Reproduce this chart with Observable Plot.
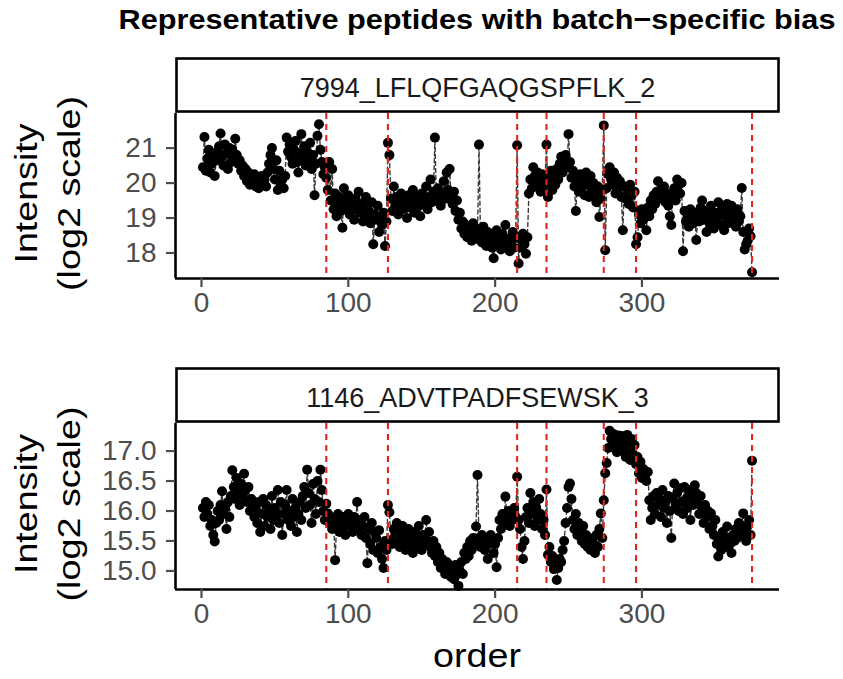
<!DOCTYPE html>
<html><head><meta charset="utf-8">
<script src="https://cdn.jsdelivr.net/npm/d3@7"></script>
<script src="https://cdn.jsdelivr.net/npm/@observablehq/plot@0.6"></script>
<style>
html,body{margin:0;padding:0;background:#fff;}
#root{position:relative;width:843px;height:679px;overflow:hidden;font-family:"Liberation Sans",Arial,Helvetica,sans-serif;}
#root > svg{position:absolute;left:0;}
</style></head><body><div id="root"></div>
<script>
const title = "Representative peptides with batch\u2212specific bias";
const peptides = ["7994_LFLQFGAQGSPFLK_2", "1146_ADVTPADFSEWSK_3"];
const batchStarts = [85, 127, 215, 235, 274, 296, 375];
const xTicks = [0, 100, 200, 300];
const yTicks1 = [18, 19, 20, 21];
const yTicks2 = [15.0, 15.5, 16.0, 16.5, 17.0];
const yLabelLines = ["Intensity", "(log2 scale)"];
const xLabel = "order";

// Intensity (log2) by run order, peptide 7994_LFLQFGAQGSPFLK_2
const pep1Values = [
  // batch 1 (1-84)
  20.45,21.32,20.35,20.70,20.95,20.30,20.55,20.80,20.20,20.65,
  20.90,21.05,21.42,20.75,20.50,21.10,20.85,20.40,21.00,20.60,
  20.95,20.70,21.27,20.80,20.55,20.65,20.35,20.50,20.20,20.40,
  20.05,20.30,19.95,20.15,20.00,20.25,19.90,20.10,19.85,20.05,
  20.20,19.95,20.10,19.90,20.30,20.55,20.80,21.00,20.40,20.10,
  20.65,19.80,20.35,19.95,20.10,19.85,20.20,21.30,20.90,21.10,
  20.75,20.55,20.95,21.20,20.60,20.30,20.85,21.40,20.70,21.05,
  20.50,20.90,20.65,21.15,20.40,20.80,19.65,20.55,21.35,21.68,
  20.95,20.60,20.25,20.45,
  // batch 2 (85-126)
  20.15,19.80,20.60,19.50,20.40,19.25,19.70,19.05,19.40,19.60,
  19.20,18.72,19.85,19.45,19.30,19.65,19.10,19.50,19.35,18.95,
  19.55,19.25,19.75,19.15,19.40,18.90,19.30,19.60,19.05,19.20,
  18.85,19.45,18.25,19.10,18.95,19.35,18.60,19.00,18.80,19.15,
  18.20,18.90,
  // batch 3 (127-214)
  21.15,20.80,19.55,19.20,19.90,19.35,19.60,19.10,19.45,19.70,
  19.25,19.55,19.40,19.00,19.65,19.30,19.50,19.80,19.15,19.45,
  19.60,19.35,19.05,19.70,19.40,19.55,19.90,19.25,19.60,20.10,
  19.45,19.75,21.30,19.50,19.85,19.60,19.35,19.70,20.05,19.55,
  20.30,19.80,20.40,19.65,19.40,19.75,19.20,19.50,18.95,19.15,
  18.70,18.90,18.55,18.80,18.45,18.75,18.60,18.35,18.85,18.50,
  18.70,18.40,21.10,18.55,18.30,18.75,18.45,18.20,18.60,18.35,
  18.50,18.15,17.85,18.40,18.65,18.25,18.45,18.10,18.55,18.30,
  18.80,18.20,18.40,18.05,18.35,18.60,18.15,18.45,
  // batch 4 (215-234)
  21.08,17.70,18.40,18.15,18.55,18.25,17.98,18.45,19.70,20.10,
  19.85,20.45,20.20,19.95,20.30,20.05,19.75,20.25,19.90,20.15,
  // batch 5 (235-273)
  21.10,19.60,20.05,20.35,19.80,20.20,19.95,20.40,20.10,20.55,
  20.75,20.30,20.65,20.80,20.45,21.40,20.60,20.15,20.35,19.90,
  19.20,20.05,19.75,20.25,19.85,20.10,19.65,20.30,19.95,19.60,
  20.20,19.80,20.00,19.70,19.45,19.90,19.03,19.55,19.80,
  // batch 6 (274-295)
  21.65,18.08,19.85,20.25,20.45,20.10,19.95,20.30,19.70,20.15,
  19.85,20.05,19.60,18.65,19.90,19.55,19.80,19.40,19.95,19.65,
  19.30,19.75,
  // batch 7 (296-374)
  18.25,18.45,19.10,18.85,19.25,18.95,19.15,18.65,19.30,19.05,
  19.50,19.25,19.65,19.40,19.75,20.05,19.55,19.80,19.60,19.90,
  19.45,19.70,19.35,19.05,18.80,19.60,19.85,19.50,20.10,19.95,
  19.70,20.00,18.05,19.20,18.90,19.10,18.75,19.25,19.00,18.85,
  19.15,18.37,19.05,18.90,19.30,19.50,18.95,19.20,18.60,19.10,
  18.85,19.35,19.00,18.70,19.15,18.90,19.45,19.10,18.80,19.30,
  18.65,19.05,19.40,18.85,19.20,19.35,18.95,19.10,18.75,19.25,
  18.90,19.05,19.86,18.60,18.10,18.25,18.35,18.70,18.48,
  // batch 8 (375)
  17.45
];

// Intensity (log2) by run order, peptide 1146_ADVTPADFSEWSK_3
const pep2Values = [
  // batch 1
  16.05,15.90,16.15,15.95,16.10,15.75,15.85,15.60,15.49,15.80,
  16.00,15.85,16.10,16.33,15.95,16.05,15.70,16.15,15.90,16.25,
  16.68,16.40,16.20,16.55,16.30,16.10,16.45,16.25,16.62,16.35,
  16.15,16.40,16.00,16.20,16.10,15.90,16.05,15.80,16.15,15.65,
  15.95,16.20,15.75,16.10,15.90,16.00,15.70,16.25,15.85,16.05,
  15.95,16.35,15.80,16.15,15.60,15.95,16.10,16.35,15.85,16.00,
  15.75,16.20,15.90,16.05,15.65,15.95,16.15,15.85,16.25,16.40,
  16.05,16.69,16.30,16.10,15.80,16.45,16.20,15.95,16.50,16.15,
  16.69,16.35,16.00,15.85,
  // batch 2
  16.12,15.96,15.80,15.90,15.70,15.85,15.18,15.75,15.95,15.65,
  15.85,15.70,15.90,15.60,15.80,15.95,15.75,15.85,15.65,15.90,
  15.80,16.15,15.70,15.85,15.60,15.75,15.90,15.55,15.13,15.70,
  15.45,15.80,15.35,15.65,15.55,15.30,15.68,15.40,15.20,15.05,
  15.50,15.35,
  // batch 3
  16.10,15.98,15.51,15.45,15.70,15.60,15.80,15.55,15.40,15.65,
  15.75,15.50,15.35,15.60,15.70,15.45,15.55,15.30,15.65,15.50,
  15.40,15.75,15.55,15.35,15.60,15.45,15.85,15.50,15.65,15.40,
  15.30,15.50,15.25,15.40,15.15,15.30,15.05,15.20,15.10,14.95,
  15.15,15.00,15.10,14.90,15.05,14.86,15.10,14.95,14.75,15.00,
  15.15,14.95,15.30,15.20,15.40,15.25,15.50,15.35,15.55,15.45,
  15.74,16.60,15.55,15.40,15.60,15.50,15.35,15.55,15.20,15.45,
  15.60,15.50,15.30,15.45,15.06,15.55,15.85,15.70,15.95,15.80,
  16.24,15.90,16.00,15.75,15.95,15.85,16.05,15.90,
  // batch 4
  16.57,15.85,15.70,15.40,15.20,15.50,15.90,16.05,15.80,16.30,
  15.95,16.15,15.75,16.05,15.85,16.20,15.95,15.70,15.85,15.60,
  // batch 5
  16.36,15.27,15.40,15.15,15.25,15.03,15.10,14.85,15.05,15.20,
  15.15,15.35,15.50,15.80,16.05,16.40,16.46,16.20,15.85,15.70,
  15.95,15.60,15.80,15.65,15.50,15.75,15.45,15.60,15.40,15.55,
  15.35,15.50,15.45,15.30,15.60,15.40,15.70,15.96,15.55,
  // batch 6
  16.18,16.63,16.80,17.05,17.34,17.20,17.07,17.28,17.15,16.98,
  17.26,17.10,17.25,17.00,17.18,16.90,17.27,17.05,16.85,17.20,
  16.95,17.10,
  // batch 7
  16.78,16.90,16.63,16.82,16.55,16.70,16.58,16.50,16.65,16.18,
  15.85,16.05,16.25,15.95,16.30,16.10,16.20,15.90,16.35,16.05,
  16.15,15.80,16.25,16.00,15.55,16.20,16.46,16.10,16.30,16.00,
  16.38,16.15,15.95,16.40,16.20,16.05,16.35,15.85,16.25,16.10,
  16.43,16.30,16.15,15.95,16.25,16.05,15.80,16.10,15.90,16.00,
  15.70,15.96,15.75,15.60,15.85,15.45,15.24,15.55,15.35,15.65,
  15.50,15.40,15.74,15.55,15.45,15.30,15.60,15.50,15.70,15.55,
  15.80,15.62,15.75,15.96,15.65,15.50,15.75,15.85,15.60,
  // batch 8
  16.84
];

const FONT = '"Liberation Sans", Arial, Helvetica, sans-serif';
const root = document.getElementById("root");
const xDomain = [-17.7, 393.7];
const MT = 10, MB = 50;

function panel(values, yDomain, yTicks, yFmt, panelTop, panelH) {
  const data = values.map((v, i) => ({order: i + 1, value: v}));
  const chart = Plot.plot({
    width: 843,
    height: MT + panelH + MB,
    marginLeft: 175, marginRight: 64, marginTop: MT, marginBottom: MB,
    style: {fontFamily: FONT, fontSize: "28px", background: "transparent", overflow: "visible"},
    x: {domain: xDomain},
    y: {domain: yDomain},
    marks: [
      Plot.line(data, {x: "order", y: "value", stroke: "#3a3a3a", strokeWidth: 1.4, strokeDasharray: "4,3"}),
      Plot.dot(data, {x: "order", y: "value", r: 5, fill: "black", stroke: "none"}),
      Plot.ruleX(batchStarts, {stroke: "#e3251d", strokeWidth: 2.1, strokeDasharray: "6,5"}),
      Plot.ruleX([xDomain[0]], {stroke: "black", strokeWidth: 2.6}),
      Plot.ruleY([yDomain[0]], {stroke: "black", strokeWidth: 2.6}),
      Plot.axisX({ticks: xTicks, tickSize: 9, tickPadding: 5, label: null, color: "#4d4d4d", strokeWidth: 2.2, fontSize: 28}),
      Plot.axisY({ticks: yTicks, tickSize: 9, tickPadding: 10, label: null, tickFormat: yFmt, color: "#4d4d4d", strokeWidth: 2.2, fontSize: 28})
    ]
  });
  chart.style.position = "absolute";
  chart.style.top = (panelTop - MT) + "px";
  chart.style.left = "0px";
  root.appendChild(chart);
}

const panels = [
  {values: pep1Values, domain: [17.27, 21.99], ticks: yTicks1, fmt: d3.format("d"), top: 113, h: 165, stripTop: 58.5},
  {values: pep2Values, domain: [14.69, 17.46], ticks: yTicks2, fmt: d3.format(".1f"), top: 423, h: 166, stripTop: 368.5}
];
panels.forEach(p => panel(p.values, p.domain, p.ticks, p.fmt, p.top, p.h));

// overlay: title, strips, axis titles
const ns = "http://www.w3.org/2000/svg";
const svg = document.createElementNS(ns, "svg");
svg.setAttribute("width", 843); svg.setAttribute("height", 679);
svg.style.top = "0px"; svg.style.position = "absolute"; svg.style.left = "0px";
svg.style.fontFamily = FONT;
function el(tag, attrs, text) {
  const e = document.createElementNS(ns, tag);
  for (const k in attrs) e.setAttribute(k, attrs[k]);
  if (text != null) e.textContent = text;
  svg.appendChild(e);
  return e;
}
el("text", {x: 477, y: 29, "text-anchor": "middle", "font-weight": "bold", "font-size": 28,
  textLength: 717, lengthAdjust: "spacingAndGlyphs", fill: "#000"}, title);
panels.forEach((p, i) => {
  el("rect", {x: 176.5, y: p.stripTop, width: 602, height: 53, fill: "white", stroke: "black", "stroke-width": 2.6});
  el("text", {x: 477.5, y: p.stripTop + 38.5, "text-anchor": "middle", "font-size": 27, fill: "#1a1a1a"}, peptides[i]);
  const cy = p.top + p.h / 2 - 2;
  el("text", {transform: `translate(37,${cy}) rotate(-90)`, "text-anchor": "middle", "font-size": 32,
    textLength: 140, lengthAdjust: "spacingAndGlyphs", fill: "#000"}, yLabelLines[0]);
  el("text", {transform: `translate(80,${cy}) rotate(-90)`, "text-anchor": "middle", "font-size": 32,
    textLength: 195, lengthAdjust: "spacingAndGlyphs", fill: "#000"}, yLabelLines[1]);
});
el("text", {x: 477, y: 667, "text-anchor": "middle", "font-size": 34, textLength: 88,
  lengthAdjust: "spacingAndGlyphs", fill: "#000"}, xLabel);
root.appendChild(svg);
</script></body></html>
